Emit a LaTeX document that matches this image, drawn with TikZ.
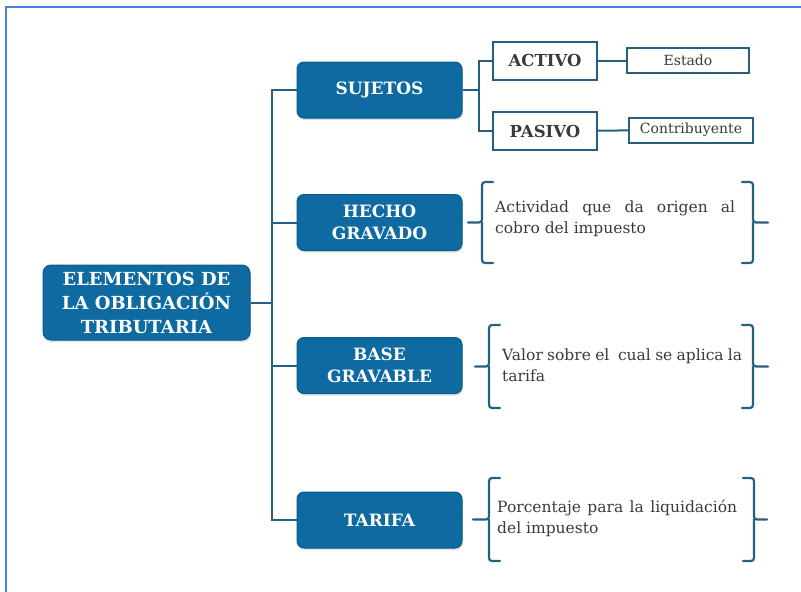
\documentclass[tikz,border=0pt]{standalone}
\usepackage{fontspec}
\setmainfont{DejaVu Serif}
\usetikzlibrary{shadows}

\definecolor{azul}{HTML}{0E6AA0}
\definecolor{bordeazul}{HTML}{0A5C8C}
\definecolor{lineaazul}{HTML}{25607F}
\definecolor{marco}{HTML}{4A7FDB}
\definecolor{gristexto}{HTML}{3A3A3A}

% llave izquierda: x, arriba, abajo, x del tallo
\newcommand{\llaveizq}[4]{%
  \draw[llave] (#1+11,#2) -- (#1,#2) -- (#1,{(#2+#3)/2}) -- (#4,{(#2+#3)/2});
  \draw[llave] (#1,{(#2+#3)/2}) -- (#1,#3) -- (#1+11,#3);
}
% llave derecha: x, arriba, abajo, x del tallo
\newcommand{\llaveder}[4]{%
  \draw[llave] (#1-11,#2) -- (#1,#2) -- (#1,{(#2+#3)/2}) -- (#4,{(#2+#3)/2});
  \draw[llave] (#1,{(#2+#3)/2}) -- (#1,#3) -- (#1-11,#3);
}

\begin{document}
\begin{tikzpicture}[x=1pt,y=-1pt,
  principal/.style={draw=bordeazul,fill=azul,rounded corners=8pt,line width=1pt,
    text=white,align=center,font=\bfseries\fontsize{18}{24}\selectfont,
    minimum width=207pt,minimum height=75pt,inner sep=2pt,
    drop shadow={opacity=0.25,shadow xshift=1pt,shadow yshift=-2pt}},
  elemento/.style={draw=bordeazul,fill=azul,rounded corners=7pt,line width=1pt,
    text=white,align=center,font=\bfseries\fontsize{17}{22}\selectfont,
    minimum width=165pt,minimum height=56pt,inner sep=2pt,
    drop shadow={opacity=0.25,shadow xshift=1pt,shadow yshift=-2pt}},
  sujeto/.style={draw=lineaazul,line width=2pt,fill=white,text=gristexto,
    font=\bfseries\fontsize{16.5}{18}\selectfont,minimum width=104pt,minimum height=38pt},
  valor/.style={draw=lineaazul,line width=2pt,fill=white,text=gristexto,
    font=\fontsize{14}{16}\selectfont,minimum width=122pt,minimum height=25pt,inner sep=1pt},
  texto/.style={anchor=west,text=gristexto,text width=240pt,align=justify,inner sep=0pt,
    font=\fontsize{15.5}{21}\selectfont},
  linea/.style={draw=lineaazul,line width=2pt},
  llave/.style={draw=lineaazul,line width=2.2pt,rounded corners=3pt,line cap=round}]

  \useasboundingbox (0,0) rectangle (801,592);
  % marco
  \draw[marco,line width=2pt] (6,592) -- (6,7) -- (801,7);

  \node[principal] (elementos) at (146.5,302.5) {ELEMENTOS DE\\LA OBLIGACIÓN\\TRIBUTARIA};

  \node[elemento] (sujetos) at (379.5,90) {SUJETOS};
  \node[elemento] (hecho) at (379.5,222.5) {HECHO\\GRAVADO};
  \node[elemento] (base) at (379.5,365.5) {BASE\\GRAVABLE};
  \node[elemento] (tarifa) at (379.5,520) {TARIFA};

  \node[sujeto] (activo) at (545,60.5) {ACTIVO};
  \node[sujeto] (pasivo) at (545,131) {PASIVO};
  \node[valor] (estado) at (688,60.5) {Estado};
  \node[valor,minimum width=124pt] (contribuyente) at (691,130) {Contribuyente};

  \node[texto] (thecho) at (495,219) {Actividad que da origen al\linebreak cobro del impuesto};
  \node[texto] (tbase) at (502,365.5) {Valor sobre el~~cual se aplica la\linebreak tarifa};
  \node[texto] (ttarifa) at (497,518) {Porcentaje para la liquidación\linebreak del impuesto};

  % conectores
  \coordinate (tronco) at (272,302.5);
  \coordinate (horquilla) at (479,90);
  \draw[linea] (elementos.east) -- (tronco);
  \draw[linea] (sujetos.west) -| (tronco) |- (tarifa.west);
  \draw[linea] (hecho.west) -- (hecho.west -| tronco);
  \draw[linea] (base.west) -- (base.west -| tronco);
  \draw[linea] (sujetos.east) -- (horquilla);
  \draw[linea] (activo.west) -| (horquilla) |- (pasivo.west);
  \draw[linea] (activo) -- (estado);
  \draw[linea] (pasivo) -- (contribuyente);

  % llaves
  \llaveizq{482}{182}{263}{468}
  \llaveder{753}{182}{263}{768}
  \llaveizq{489}{325}{408}{475}
  \llaveder{753}{325}{408}{768}
  \llaveizq{489}{478}{561}{473}
  \llaveder{754}{478}{561}{767}
\end{tikzpicture}
\end{document}
